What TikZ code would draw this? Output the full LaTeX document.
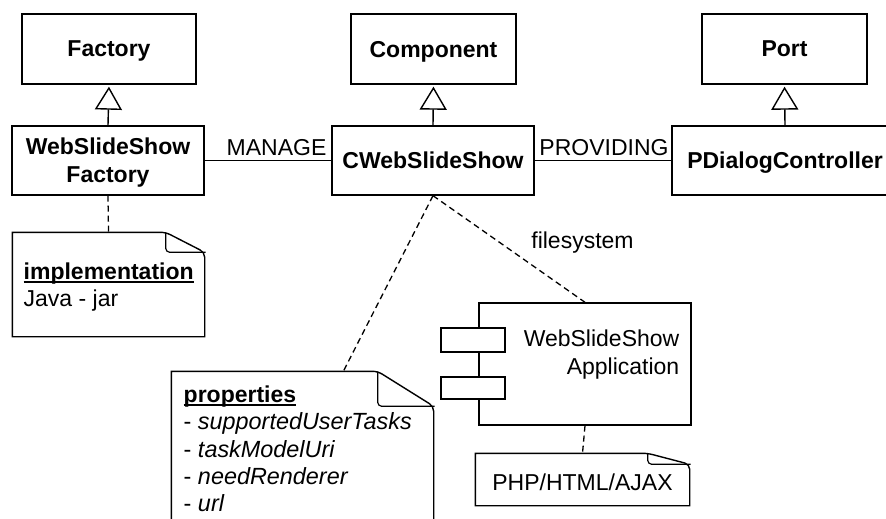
\documentclass[tikz,border=0pt]{standalone}
\usepackage{fontspec}
\setmainfont{Liberation Sans}
\usetikzlibrary{arrows.meta}
\newcommand\notefold[3]{% node name, fold width, fold height
  \draw (#1.south west) -- (#1.north west) [rounded corners=5pt]-- ([xshift=-#2]#1.north east) -- ([yshift=-#3]#1.north east) [sharp corners]-- (#1.south east) -- cycle;
  \draw[line width=1.2pt,rounded corners=4pt] ([xshift=-#2]#1.north east) -- ([xshift=-#2,yshift=-#3]#1.north east) -- ([yshift=-#3,xshift=1pt]#1.north east);
}
\newcommand\myul[1]{\setbox0\hbox{#1}\rlap{\rule[-3.5pt]{\wd0}{1.3pt}}\box0}
\begin{document}
\begin{tikzpicture}[x=1pt,y=-1pt,line width=1.4pt,
  box/.style 2 args={draw,minimum width=#1,minimum height=#2,inner sep=0pt,
    font=\fontsize{23}{28}\selectfont\bfseries,align=center},
  notebox/.style 2 args={minimum width=#1,minimum height=#2,inner sep=0pt},
  txt/.style={inner sep=0pt,font=\fontsize{23}{28}\selectfont},
  itxt/.style={txt,font=\fontsize{23.4}{28}\selectfont\itshape},
  btxt/.style={txt,font=\fontsize{23}{28}\selectfont\bfseries},
  gen/.style={-{Triangle[open,length=23pt,width=27pt]},shorten >=2pt},
  dep/.style={dash pattern=on 6pt off 4pt,line width=1.3pt},
  plain/.style={draw,inner sep=0pt}]
\useasboundingbox (0,0) rectangle (886,519);
\clip (0,0) rectangle (886,519);
\fill[white] (0,0) rectangle (886,519);

% upper classes
\node[box={174pt}{70pt}] (fac) at (109,49) {\raisebox{0pt}[\height][0pt]{Factory}};
\node[box={165pt}{70pt}] (comp) at (433.5,49) {\raisebox{0pt}[\height][0pt]{Component}};
\node[box={165pt}{70pt}] (port) at (784.5,49) {\raisebox{0pt}[\height][0pt]{Port}};

% middle classes
\node[box={192pt}{69pt}] (wsf) at (108,160.5) {WebSlideShow\\\raisebox{0pt}[\height][0pt]{Factory}};
\node[box={202pt}{69pt}] (cws) at (433,160.5) {CWebSlideShow};
\node[box={226pt}{69pt}] (pdc) at (785,160.5) {\raisebox{0pt}[\height][0pt]{PDialogController}};

% generalizations
\draw[gen] (wsf.north) -- (fac.south);
\draw[gen] (cws.north) -- (comp.south);
\draw[gen] (pdc.north) -- (port.south);

% associations
\draw (wsf.east) -- (cws.west);
\draw (cws.east) -- (pdc.west);
\node[txt,anchor=base] (manage) at (276.5,155) {MANAGE};
\node[txt,anchor=base] (providing) at (604,155) {PROVIDING};

% implementation note
\node[notebox={191pt}{103pt}] (impl) at (108.5,284.5) {};
\notefold{impl}{39pt}{20pt}
\node[btxt,anchor=base west] (implh) at (23,279) {\myul{implementation}};
\node[txt,anchor=base west] (impl1) at (23,306) {Java - jar};
\draw[dep] (wsf.south) -- (impl.north);

% properties note
\node[notebox={261pt}{180pt}] (props) at (302.5,462) {};
\notefold{props}{56pt}{35pt}
\coordinate (propsin) at (343,372);
\node[btxt,anchor=base west] (proph) at (183,402) {\myul{properties}};
\node[itxt,anchor=base west] (prop1) at (183,429) {\upshape- \itshape supportedUserTasks};
\node[itxt,anchor=base west] (prop2) at (183,457) {\upshape- \itshape taskModelUri};
\node[itxt,anchor=base west] (prop3) at (183,484) {\upshape- \itshape needRenderer};
\node[itxt,anchor=base west] (prop4) at (183,511) {\upshape- \itshape url};
\draw[dep] (cws.south) -- (propsin);

% application component
\node[plain,minimum width=212pt,minimum height=122pt] (app) at (585,364) {};
\node[plain,fill=white,minimum width=64pt,minimum height=24pt] (port1) at (473,340) {};
\node[plain,fill=white,minimum width=64pt,minimum height=22pt] (port2) at (473,388) {};
\node[txt,align=right,anchor=north east] (apptxt) at (680,329) {WebSlideShow\\Application};
\draw[dep] (cws.south) -- (app.north);
\node[txt,anchor=base] (fs) at (582.5,248) {filesystem};

% PHP note
\node[notebox={213pt}{51pt}] (php) at (582.5,479.5) {};
\notefold{php}{42pt}{11pt}
\node[txt] (phptxt) at (582.5,482) {PHP/HTML/AJAX};
\draw[dep] (app.south) -- (php.north);
\end{tikzpicture}
\end{document}
